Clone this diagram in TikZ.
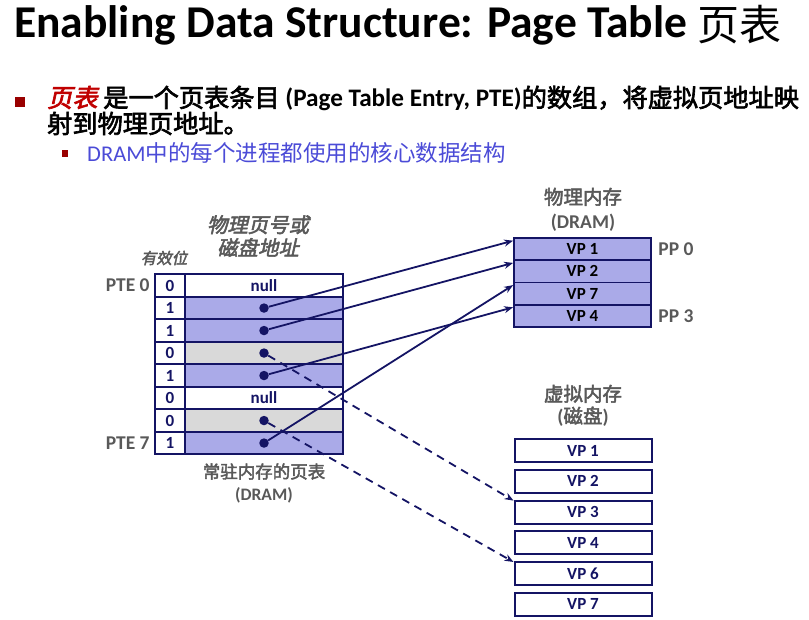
\documentclass[tikz,border=0pt]{standalone}
\usepackage{fontspec}
\setmainfont{Carlito}
\newfontfamily\cjk{Noto Sans CJK SC}[AutoFakeBold=2.5, AutoFakeSlant=0.22]
\usetikzlibrary{arrows.meta, positioning}

\definecolor{navyline}{RGB}{20,20,100}
\definecolor{lavfill}{RGB}{170,170,232}
\definecolor{cellgray}{RGB}{217,217,217}
\definecolor{labgray}{RGB}{89,89,89}
\definecolor{bulletred}{RGB}{153,0,0}
\definecolor{termred}{RGB}{192,0,0}
\definecolor{subblue}{RGB}{75,75,215}

\begin{document}
\begin{tikzpicture}[
    x=1pt, y=-1pt,
    >=Stealth,
    headline/.style={anchor=base west, inner sep=0pt},
    bitcell/.style={draw=navyline, line width=1.8pt, fill=white, text=navyline,
                    minimum width=30pt, minimum height=22.5pt, inner sep=0pt,
                    font=\bfseries\fontsize{17}{19}\selectfont},
    entry/.style={draw=navyline, line width=1.8pt, text=navyline,
                  minimum width=158pt, minimum height=22.5pt, inner sep=0pt,
                  font=\bfseries\fontsize{17}{19}\selectfont},
    nullrow/.style={fill=white},
    memrow/.style={fill=lavfill},
    diskrow/.style={fill=cellgray},
    dot/.style={circle, fill=navyline, minimum size=9.5pt, inner sep=0pt},
    physpage/.style={draw=navyline, line width=1.8pt, fill=lavfill,
                     minimum width=137pt, minimum height=22.2pt, inner sep=0pt,
                     font=\bfseries\fontsize{17}{19}\selectfont},
    diskpage/.style={draw=navyline, line width=2pt, fill=white, text=navyline,
                     minimum width=137pt, minimum height=23pt, inner sep=0pt,
                     font=\bfseries\fontsize{17}{19}\selectfont},
    graylabel/.style={text=labgray, align=center, inner sep=0pt,
                      font=\bfseries\fontsize{18}{24}\selectfont},
    sidelabel/.style={text=labgray, font=\bfseries\fontsize{19.5}{21}\selectfont},
    ptr/.style={-{Stealth[length=9pt, width=7pt]}, draw=navyline, line width=1.8pt},
    diskptr/.style={ptr, dash pattern=on 8pt off 6pt}
  ]
    \useasboundingbox (0,0) rectangle (809,620);

    % title and bullets
    \node[headline, font=\bfseries\fontsize{45.5}{48}\selectfont] (title) at (14,38)
         {Enabling Data Structure: Page Table \raisebox{-3pt}{\cjk\mdseries\fontsize{42}{44}\selectfont 页表}};
    \node[fill=bulletred, minimum size=10pt, inner sep=0pt] (sq1) at (20,101.7) {};
    \node[headline, font=\bfseries\fontsize{25.2}{27}\selectfont] (pt1a) at (47,107)
         {{\cjk\itshape\color{termred}页表} {\cjk 是一个页表条目} (Page Table Entry, PTE){\cjk 的数组，将虚拟页地址映}};
    \node[headline, font=\bfseries\fontsize{25.2}{27}\selectfont] (pt1b) at (47,133)
         {\cjk 射到物理页地址。};
    \node[fill=bulletred, minimum size=6.5pt, inner sep=0pt] (sq2) at (65,153.7) {};
    \node[headline, text=subblue, font=\fontsize{22.5}{24}\selectfont] (pt2) at (87,162)
         {DRAM{\cjk 中的每个进程都使用的核心数据结构}};

    % page table
    \foreach \bit/\kind/\txt [count=\i from 0] in
        {0/nullrow/null, 1/memrow/, 1/memrow/, 0/diskrow/,
         1/memrow/, 0/nullrow/null, 0/diskrow/, 1/memrow/} {
      \node[bitcell] (b\i) at (170, 285.55+22.5*\i) {\bit};
      \node[entry, \kind] (e\i) at (264, 285.55+22.5*\i) {\txt};
    }
    \foreach \i in {1,2,3,4,6,7}
      \node[dot] (d\i) at (e\i) {};

    \node[sidelabel, left=1pt of b0] (pte0) {PTE 0};
    \node[sidelabel, left=1pt of b7] (pte7) {PTE 7};
    \node[graylabel, font=\cjk\bfseries\itshape\fontsize{15.5}{17}\selectfont] (valid) at (164,258) {有效位};
    \node[graylabel, font=\cjk\bfseries\itshape\fontsize{20.4}{23}\selectfont] (hdr) at (258,236)
         {物理页号或\\磁盘地址};
    \node[graylabel, font=\bfseries\fontsize{17.5}{22}\selectfont, below=8pt of e7] (ptcap)
         {{\cjk 常驻内存的页表}\\(DRAM)};

    % physical memory
    \foreach \vp [count=\i from 0] in {1,2,7,4}
      \node[physpage] (pp\i) at (582.5, 249.2+22.2*\i) {VP \vp};
    \node[graylabel, font=\bfseries\fontsize{19.5}{24}\selectfont] (physcap) at (583,209.5)
         {{\cjk 物理内存}\\(DRAM)};
    \node[sidelabel, right=3pt of pp0] (ppn0) {PP 0};
    \node[sidelabel, right=3pt of pp3] (ppn3) {PP 3};

    % virtual memory on disk
    \foreach \vp [count=\i from 0] in {1,2,3,4,6,7}
      \node[diskpage] (vd\vp) at (583, 450.7+30.7*\i) {VP \vp};
    \node[graylabel, font=\bfseries\fontsize{19.5}{22}\selectfont] (diskcap) at (583,405.5)
         {{\cjk 虚拟内存}\\({\cjk 磁盘})};

    % pointers
    \draw[ptr] (d1) -- ([yshift=-3.5pt]pp0.north west);
    \draw[ptr] (d2) -- ([yshift=-3.5pt]pp1.north west);
    \draw[ptr] (d7) -- ([yshift=-3.5pt]pp2.north west);
    \draw[ptr] (d4) -- ([yshift=-3.5pt]pp3.north west);
    \draw[diskptr] (d3) -- ([yshift=-1pt]vd3.north west);
    \draw[diskptr] (d6) -- ([yshift=-1pt]vd6.north west);
\end{tikzpicture}
\end{document}
